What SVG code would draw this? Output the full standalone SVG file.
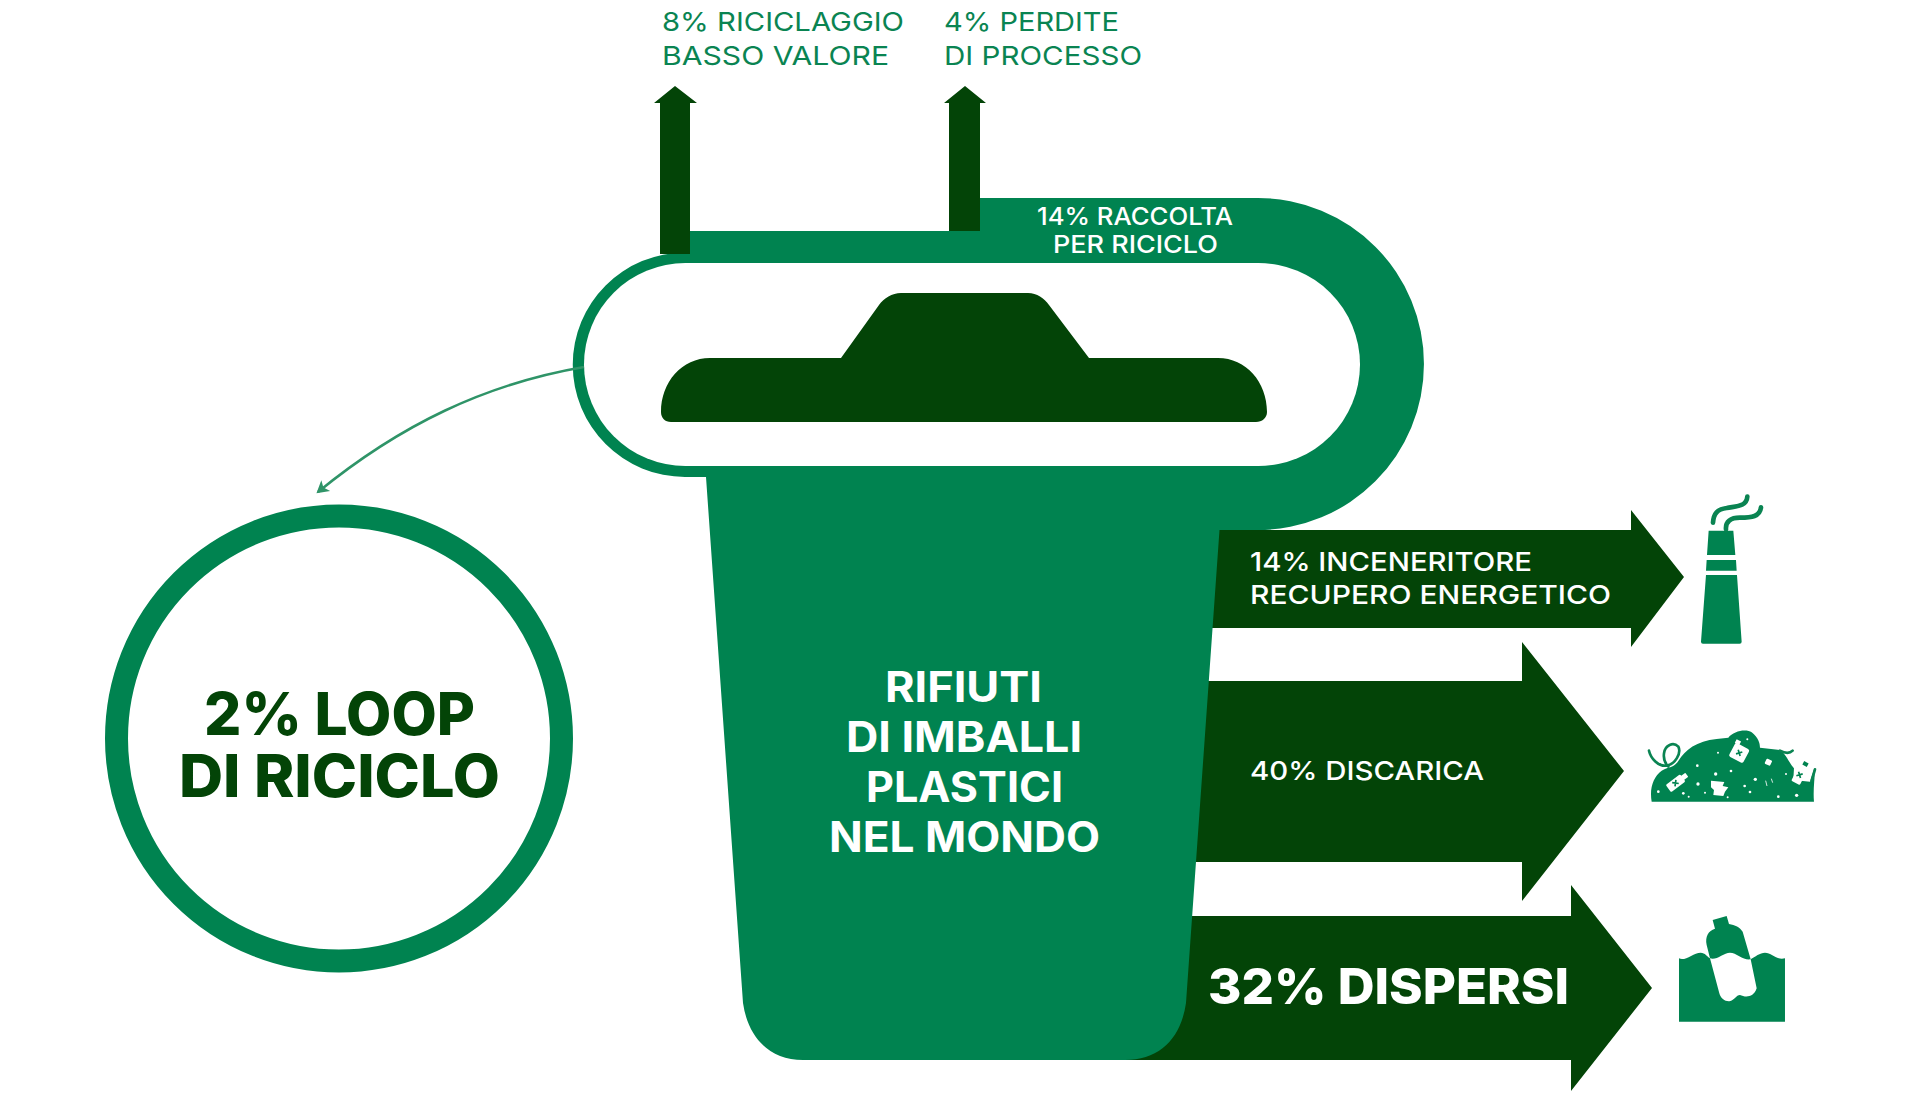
<svg xmlns="http://www.w3.org/2000/svg" width="1920" height="1100" viewBox="0 0 1920 1100">
<style>
.g{fill:#008350}.d{fill:#034407}.w{fill:#fff}
text{font-family:"Inter","Liberation Sans",sans-serif;text-anchor:start}
.top{fill:#0a8452;font-size:26px;font-weight:400}
.lab{fill:#fff;font-size:26px;font-weight:500}
.small{fill:#fff;font-size:24px;font-weight:500}
.main{fill:#fff;font-size:42px;font-weight:700}
.big{fill:#fff;font-size:50px;font-weight:800}
.loop{fill:#034407;font-size:59px;font-weight:800}
.smoke{fill:none;stroke:#0a8452;stroke-width:14;stroke-linecap:round}
.line{fill:none;stroke:#0a8452;stroke-width:8;stroke-linecap:round}
</style>
<defs>
<marker id="head" markerWidth="10" markerHeight="10" refX="9" refY="5" orient="auto" markerUnits="userSpaceOnUse" viewBox="0 0 10 10" overflow="visible"><path d="M11,5 L-1,-2 L2,5 L-1,12 Z" fill="#2f9468"/></marker>
</defs>
<g id="arrow-dispersi"><path class="d" d="M1100,916 H1571 V885 L1652,988 L1571,1091 V1060 H1100 Z"/><text class="big" x="1208" y="1004" textLength="361" lengthAdjust="spacingAndGlyphs">32% DISPERSI</text></g>
<g id="arrow-discarica"><path class="d" d="M1150,681 H1522 V642 L1624,771 L1522,901 V862 H1150 Z"/></g>
<g id="arrow-inceneritore"><path class="d" d="M1180,530 H1631 V510 L1684,577 L1631,647 V628 H1180 Z"/></g>
<g id="bin">
<path class="g" d="M690,252.500 V231 H980 V198 H1258 A166,166 0 0 1 1258,530 H1219.500 L1186,1003 C1181,1038 1160,1060 1125,1060 H803 C770,1060 748,1038 743,1003 L706,477 H685 A112.250,112.250 0 0 1 685,252.500 Z"/>
<rect class="w" x="584" y="263" width="776" height="203" rx="101.500"/>
<path class="d" d="M661,412 C661,382 682,358 710,358 H841 L879,305 C884,298 892,293 901,293 H1028 C1037,293 1044,298 1049,305 L1089,358 H1218 C1246,358 1267,382 1267,412 C1267,418 1262,422 1256,422 H671 C665,422 661,418 661,412 Z"/>
<text class="small" x="1037" y="225" textLength="196" lengthAdjust="spacingAndGlyphs">14% RACCOLTA</text>
<text class="small" x="1053" y="253" textLength="165" lengthAdjust="spacingAndGlyphs">PER RICICLO</text>
<text class="main" x="885" y="702" textLength="157" lengthAdjust="spacingAndGlyphs">RIFIUTI</text>
<text class="main" x="846" y="752" textLength="236" lengthAdjust="spacingAndGlyphs">DI IMBALLI</text>
<text class="main" x="866" y="802" textLength="197" lengthAdjust="spacingAndGlyphs">PLASTICI</text>
<text class="main" x="829" y="852" textLength="271" lengthAdjust="spacingAndGlyphs">NEL MONDO</text>
</g>
<g id="arrow-riciclaggio"><path class="d" d="M660,254 V103 H654 L675,86 L697,103 H690 V254 Z"/></g>
<g id="arrow-perdite"><path class="d" d="M949,231 V103 H944 L965,86 L986,103 H980 V231 Z"/></g>
<g id="label-riciclaggio"><text class="top" x="662" y="31" textLength="242" lengthAdjust="spacingAndGlyphs">8% RICICLAGGIO</text><text class="top" x="662" y="65" textLength="227" lengthAdjust="spacingAndGlyphs">BASSO VALORE</text></g>
<g id="label-perdite"><text class="top" x="944" y="31" textLength="175" lengthAdjust="spacingAndGlyphs">4% PERDITE</text><text class="top" x="944" y="65" textLength="198" lengthAdjust="spacingAndGlyphs">DI PROCESSO</text></g>
<g id="label-inceneritore"><text class="lab" x="1250" y="571" textLength="282" lengthAdjust="spacingAndGlyphs">14% INCENERITORE</text><text class="lab" x="1250" y="604" textLength="361" lengthAdjust="spacingAndGlyphs">RECUPERO ENERGETICO</text></g>
<g id="label-discarica"><text class="lab" x="1250" y="780" textLength="234" lengthAdjust="spacingAndGlyphs">40% DISCARICA</text></g>
<g id="loop"><circle cx="339" cy="738.500" r="222.500" fill="#fff" stroke="#008350" stroke-width="23"/>
<text class="loop" x="204" y="735" textLength="271" lengthAdjust="spacingAndGlyphs">2% LOOP</text>
<text class="loop" x="179" y="797" textLength="321" lengthAdjust="spacingAndGlyphs">DI RICICLO</text></g>
<g id="connectors"><path d="M584,367 C485,384 400,425 318,492" fill="none" stroke="#2f9468" stroke-width="2.500" marker-end="url(#head)"/></g>
<g id="icon-factory" transform="translate(1620,470) scale(0.3333)">
<path class="g" d="M266,182 H340 L346,255 H261 Z M260,270 H348 L350,302 H258 Z M258,315 H351 L365,515 Q365,521 359,521 H249 Q243,521 243,515 Z"/>
<path class="smoke" d="M279,158 C281,130 292,118 320,114 C350,108 380,110 382,80"/>
<path class="smoke" d="M318,178 C316,155 332,143 360,143 C395,143 420,140 423,112"/>
</g>
<g id="icon-landfill" transform="translate(1630,710) scale(0.3333)">
<path class="g" d="M65,275 C58,235 70,200 95,182 C115,170 130,175 145,153 C165,120 200,93 260,87 L295,83 C310,62 350,55 365,67 C385,82 390,100 390,113 L450,120 C470,135 475,155 492,175 L490,210 L540,215 L552,178 C558,190 548,230 552,275 Z"/>
<path class="line" d="M57,122 C62,145 85,170 110,167 C135,163 155,130 145,110 C130,95 105,105 102,130 C100,145 105,160 115,170"/>
<path class="line" d="M450,122 C465,130 480,130 488,122"/>
<path class="line" d="M555,178 C552,190 548,200 545,212"/>
<g transform="rotate(-37 142 215)"><rect class="w" x="108" y="202" width="54" height="27" rx="4"/><rect class="w" x="160" y="208" width="17" height="15" rx="2"/><path d="M128,208 L142,222 M142,208 L128,222" stroke="#008350" stroke-width="5"/></g>
<g transform="rotate(28 328 128)"><rect class="w" x="304" y="106" width="48" height="46" rx="6"/><rect class="w" x="302" y="96" width="15" height="12"/><path d="M321,122 L335,136 M335,122 L321,136" stroke="#008350" stroke-width="5"/></g>
<path class="w" d="M243,212 L283,216 L278,228 L295,232 L285,245 L280,258 L250,255 L252,240 L243,232 Z"/>
<g transform="rotate(25 415 157)"><rect class="w" x="406" y="148" width="18" height="17" rx="3"/></g>
<g transform="rotate(28 511 190)"><rect class="w" x="497" y="170" width="29" height="52" rx="4"/><rect class="g" x="504" y="152" width="15" height="12"/><path d="M504,188 L518,202 M518,188 L504,202" stroke="#008350" stroke-width="5"/></g>
<g class="w"><circle cx="85" cy="245" r="4"/><circle cx="160" cy="250" r="4"/><circle cx="202" cy="167" r="4"/><circle cx="204" cy="222" r="5"/><circle cx="225" cy="248" r="3"/><circle cx="257" cy="192" r="5"/><circle cx="264" cy="128" r="3"/><circle cx="303" cy="183" r="4"/><circle cx="293" cy="262" r="3"/><circle cx="344" cy="228" r="4"/><circle cx="376" cy="208" r="5"/><circle cx="360" cy="246" r="4"/><circle cx="445" cy="260" r="4"/><circle cx="500" cy="256" r="5"/><circle cx="468" cy="192" r="3"/><circle cx="176" cy="260" r="3"/><circle cx="352" cy="88" r="3"/></g>
<path d="M407,212 L411,228 M424,206 L428,218" stroke="#fff" stroke-width="2.500"/>
</g>
<g id="icon-bottle" transform="translate(1660,900) scale(0.3333)">
<path class="g" d="M57,175 C75,185 100,158 122,158 C135,158 142,170 150,175 L178,280 C182,295 195,305 208,304 C225,300 228,285 240,285 C255,292 280,295 290,265 L272,178 C285,170 300,158 315,158 C335,158 350,182 375,175 V365 H57 Z"/>
<path class="g" d="M158,60 L200,48 L207,72 C225,75 240,82 248,95 L272,178 C250,182 230,158 210,158 C190,158 170,182 150,175 L140,135 C135,110 145,92 165,86 Z"/>
</g>
</svg>
